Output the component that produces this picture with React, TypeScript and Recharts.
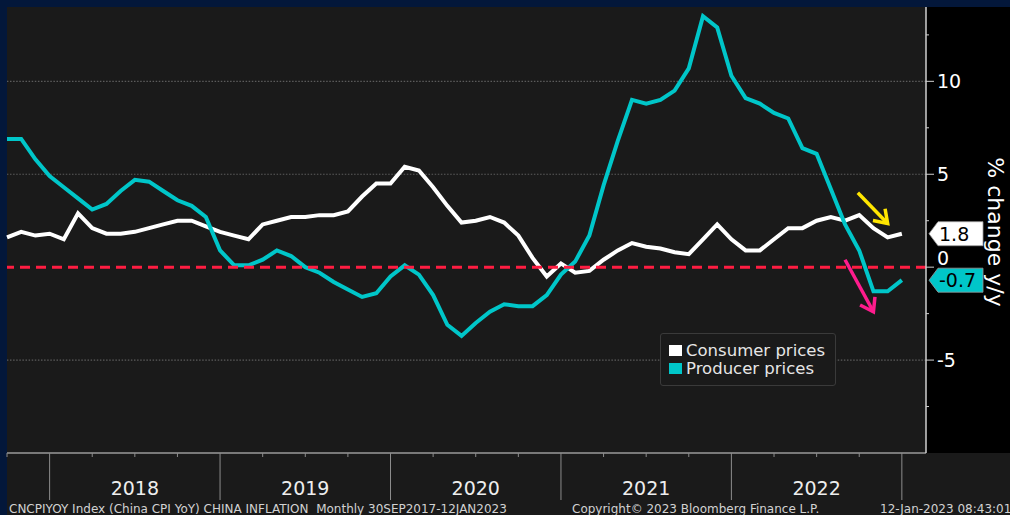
import { LineChart, Line, XAxis, YAxis, ReferenceLine, ReferenceDot } from "recharts";

// month-end observations, Sep 2017 .. Dec 2022
const months = [
  "2017-09", "2017-10", "2017-11", "2017-12",
  "2018-01", "2018-02", "2018-03", "2018-04", "2018-05", "2018-06", "2018-07", "2018-08", "2018-09", "2018-10", "2018-11", "2018-12",
  "2019-01", "2019-02", "2019-03", "2019-04", "2019-05", "2019-06", "2019-07", "2019-08", "2019-09", "2019-10", "2019-11", "2019-12",
  "2020-01", "2020-02", "2020-03", "2020-04", "2020-05", "2020-06", "2020-07", "2020-08", "2020-09", "2020-10", "2020-11", "2020-12",
  "2021-01", "2021-02", "2021-03", "2021-04", "2021-05", "2021-06", "2021-07", "2021-08", "2021-09", "2021-10", "2021-11", "2021-12",
  "2022-01", "2022-02", "2022-03", "2022-04", "2022-05", "2022-06", "2022-07", "2022-08", "2022-09", "2022-10", "2022-11", "2022-12",
];

const cpi = [
  1.6, 1.9, 1.7, 1.8,
  1.5, 2.9, 2.1, 1.8, 1.8, 1.9, 2.1, 2.3, 2.5, 2.5, 2.2, 1.9,
  1.7, 1.5, 2.3, 2.5, 2.7, 2.7, 2.8, 2.8, 3.0, 3.8, 4.5, 4.5,
  5.4, 5.2, 4.3, 3.3, 2.4, 2.5, 2.7, 2.4, 1.7, 0.5, -0.5, 0.2,
  -0.3, -0.2, 0.4, 0.9, 1.3, 1.1, 1.0, 0.8, 0.7, 1.5, 2.3, 1.5,
  0.9, 0.9, 1.5, 2.1, 2.1, 2.5, 2.7, 2.5, 2.8, 2.1, 1.6, 1.8,
];

const ppi = [
  6.9, 6.9, 5.8, 4.9,
  4.3, 3.7, 3.1, 3.4, 4.1, 4.7, 4.6, 4.1, 3.6, 3.3, 2.7, 0.9,
  0.1, 0.1, 0.4, 0.9, 0.6, 0.0, -0.3, -0.8, -1.2, -1.6, -1.4, -0.5,
  0.1, -0.4, -1.5, -3.1, -3.7, -3.0, -2.4, -2.0, -2.1, -2.1, -1.5, -0.4,
  0.3, 1.7, 4.4, 6.8, 9.0, 8.8, 9.0, 9.5, 10.7, 13.5, 12.9, 10.3,
  9.1, 8.8, 8.3, 8.0, 6.4, 6.1, 4.2, 2.3, 0.9, -1.3, -1.3, -0.7,
];

const yTicks = [-7.5, -5, -2.5, 0, 2.5, 5, 7.5, 10, 12.5];
const gridLevels = [-5, 5, 10];
const quarterTicks = [0, 3, 6, 9, 12, 15, 18, 21, 24, 27, 30, 33, 36, 39, 42, 45, 48, 51, 54, 57, 60, 63];

const series = [
  { key: "cpi", name: "Consumer prices", color: "#ffffff" },
  { key: "ppi", name: "Producer prices", color: "#00c6c9" },
];

const data = months.map((m, i) => ({ i, month: m, cpi: cpi[i], ppi: ppi[i] }));
const lastCpi = cpi[cpi.length - 1];
const lastPpi = ppi[ppi.length - 1];

const FONT = "'DejaVu Sans', Verdana, sans-serif";

function QuarterTick(props: any) {
  const { x, y, payload } = props;
  const v = payload.value;
  const yearEdge = v % 12 === 3;
  const midYear = v % 12 === 9;
  return (
    <g>
      <line x1={x} x2={x} y1={y} y2={y + (yearEdge ? 47 : 4)} stroke="#8c8c8c" strokeWidth={1} />
      {midYear && (
        <text x={x} y={y + 42} textAnchor="middle" fill="#eeeeee" fontSize={19} fontFamily={FONT}>
          {months[v].slice(0, 4)}
        </text>
      )}
    </g>
  );
}

function RightTick(props: any) {
  const { x, y, payload } = props;
  const v = payload.value;
  const major = v % 5 === 0;
  return (
    <g>
      <line x1={x} x2={x + (major ? 8 : 3)} y1={y} y2={y} stroke="#cfcfcf" strokeWidth={1} />
      {major && v !== 0 && (
        <text x={x + 11} y={y} dy="0.36em" fill="#ffffff" fontSize={19} fontFamily={FONT}>
          {v}
        </text>
      )}
      {v === 0 && (
        <text x={x + 11} y={y - 2} fill="#ffffff" fontSize={19} fontFamily={FONT}>
          {v}
        </text>
      )}
    </g>
  );
}

function badge(bg: string, label: string) {
  return (props: any) => {
    const { cx, cy } = props;
    const x = cx + 3;
    return (
      <g>
        <polygon
          points={`${x},${cy} ${x + 9},${cy - 12} ${x + 54},${cy - 12} ${x + 54},${cy + 12} ${x + 9},${cy + 12}`}
          fill={bg}
          stroke="#9a9a9a"
          strokeWidth={0.8}
        />
        <text x={x + 10} y={cy} dy="0.36em" fill="#000" fontSize={19} fontFamily={FONT}>
          {label}
        </text>
      </g>
    );
  };
}

function arrow(color: string) {
  return (props: any) => {
    const { x1, y1, x2, y2 } = props;
    const a = Math.atan2(y2 - y1, x2 - x1);
    const len = 15;
    const w = 0.6;
    const ax = x2 - len * Math.cos(a - w);
    const ay = y2 - len * Math.sin(a - w);
    const bx = x2 - len * Math.cos(a + w);
    const by = y2 - len * Math.sin(a + w);
    return (
      <g stroke={color} strokeWidth={3.5} fill="none" strokeLinecap="butt">
        <line x1={x1} y1={y1} x2={x2} y2={y2} />
        <polyline points={`${ax},${ay} ${x2},${y2} ${bx},${by}`} strokeLinejoin="miter" />
      </g>
    );
  };
}

export default function App() {
  return (
    <div
      style={{
        position: "absolute",
        left: 0,
        top: 0,
        width: 1010,
        height: 515,
        background: "#1a1a1a",
        overflow: "hidden",
        fontFamily: FONT,
      }}
    >
      <div style={{ position: "absolute", left: 926, top: 7, width: 84, height: 446, background: "#000" }} />
      <div style={{ position: "absolute", left: 0, top: 0, width: 1010, height: 7, background: "#03173a" }} />
      <div style={{ position: "absolute", left: 0, top: 0, width: 7, height: 515, background: "#03173a" }} />

      <div style={{ position: "absolute", left: 0, top: 0 }}>
        <LineChart width={1010} height={515} data={data} margin={{ top: 7, right: 0, bottom: 0, left: 7 }}>
          <XAxis
            dataKey="i"
            type="number"
            domain={[0, 64.7]}
            ticks={quarterTicks}
            interval={0}
            tick={<QuarterTick />}
            tickLine={false}
            tickSize={0}
            tickMargin={0}
            height={62}
            axisLine={{ stroke: "#9a9a9a", strokeWidth: 1.5 }}
          />
          <YAxis
            orientation="right"
            type="number"
            domain={[-10, 14]}
            ticks={yTicks}
            interval={0}
            tick={<RightTick />}
            tickLine={false}
            tickSize={0}
            tickMargin={0}
            width={84}
            axisLine={{ stroke: "#cfcfcf", strokeWidth: 1.5 }}
          />
          {gridLevels.map((g) => (
            <ReferenceLine key={g} y={g} stroke="#5c5c5c" strokeWidth={1.2} strokeDasharray="1.5 1.6" />
          ))}
          {series.map((s) => (
            <Line
              key={s.key}
              dataKey={s.key}
              name={s.name}
              type="linear"
              stroke={s.color}
              strokeWidth={4}
              dot={false}
              isAnimationActive={false}
            />
          ))}
          <ReferenceLine y={0} stroke="#ff1d42" strokeWidth={3} strokeDasharray="10 6" />
          <ReferenceLine
            segment={[
              { x: 59.9, y: 4.0 },
              { x: 62.0, y: 2.35 },
            ]}
            shape={arrow("#ffe600")}
            ifOverflow="visible"
          />
          <ReferenceLine
            segment={[
              { x: 59.0, y: 0.4 },
              { x: 61.0, y: -2.4 },
            ]}
            shape={arrow("#ff1c8d")}
            ifOverflow="visible"
          />
          <ReferenceDot x={64.7} y={lastCpi} ifOverflow="visible" shape={badge("#ffffff", lastCpi.toFixed(1))} />
          <ReferenceDot x={64.7} y={lastPpi} ifOverflow="visible" shape={badge("#00c6c9", lastPpi.toFixed(1))} />
        </LineChart>
      </div>

      <div
        style={{
          position: "absolute",
          left: 915,
          top: 219,
          width: 160,
          height: 26,
          transform: "rotate(90deg)",
          transformOrigin: "80px 13px",
          color: "#ffffff",
          fontSize: 22,
          lineHeight: "26px",
          textAlign: "center",
          whiteSpace: "nowrap",
        }}
      >
        % change y/y
      </div>

      <div
        style={{
          position: "absolute",
          left: 660,
          top: 333,
          width: 176,
          height: 53,
          boxSizing: "border-box",
          background: "#1a1a1a",
          border: "1px solid #3a3a3a",
          borderRadius: 3,
          padding: "7px 0 0 8px",
        }}
      >
        {series.map((s) => (
          <div key={s.key} style={{ display: "flex", alignItems: "center", height: 18 }}>
            <span style={{ width: 13, height: 11, background: s.color, marginRight: 4 }} />
            <span style={{ color: "#e6e6e6", fontSize: 16.5, whiteSpace: "nowrap" }}>{s.name}</span>
          </div>
        ))}
      </div>

      <div style={{ position: "absolute", left: 9, top: 502, color: "#d2d2d2", fontSize: 12, whiteSpace: "pre" }}>
        CNCPIYOY Index (China CPI YoY) CHINA INFLATION  Monthly 30SEP2017-12JAN2023
      </div>
      <div style={{ position: "absolute", left: 572, top: 502, color: "#d2d2d2", fontSize: 12, whiteSpace: "pre" }}>
        Copyright© 2023 Bloomberg Finance L.P.
      </div>
      <div style={{ position: "absolute", left: 880, top: 502, color: "#d2d2d2", fontSize: 12, whiteSpace: "pre" }}>
        12-Jan-2023 08:43:01
      </div>
    </div>
  );
}
